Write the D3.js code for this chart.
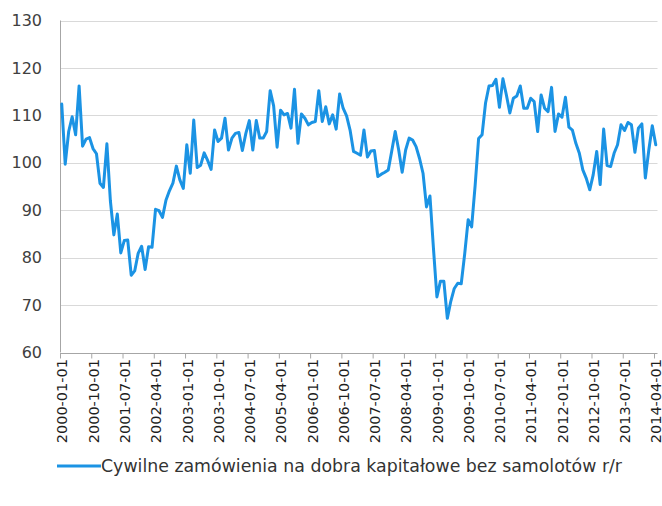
<!DOCTYPE html>
<html>
<head>
<meta charset="utf-8">
<script src="https://cdn.jsdelivr.net/npm/d3@7"></script>
<style>
  html, body { margin: 0; padding: 0; background: #ffffff; }
  svg { display: block; }
  text { font-family: "DejaVu Sans", Verdana, sans-serif; fill: #333333; }
</style>
</head>
<body>
<svg id="chart" width="662" height="506"></svg>
<script>
// Monthly series, 2000-01 .. 2014-04
const startMonth = "2000-01-01";
const endMonth = "2014-04-01";

const seriesName = "Cywilne zamówienia na dobra kapitałowe bez samolotów r/r";

const seriesValues = [
  112.4, 99.7, 106.6, 109.7, 105.9, 116.2, 103.5, 105.0, 105.3, 103.0,
  101.9, 95.7, 94.8, 104.0, 92.0, 84.8, 89.2, 81.0, 83.6, 83.7,
  76.3, 77.2, 80.9, 82.4, 77.5, 82.3, 82.2, 90.2, 89.9, 88.5,
  92.1, 94.1, 95.7, 99.3, 96.4, 94.6, 103.8, 97.8, 109.0, 99.0,
  99.5, 102.1, 100.5, 98.6, 106.9, 104.5, 105.2, 109.4, 102.7, 105.2,
  106.2, 106.4, 102.6, 106.2, 108.9, 102.7, 108.9, 105.2, 105.2, 106.6,
  115.2, 112.0, 103.3, 111.1, 110.1, 110.4, 107.3, 115.5, 104.1, 110.3,
  109.4, 108.0, 108.5, 108.7, 115.2, 108.7, 111.8, 108.2, 110.1, 107.1,
  114.5, 111.5, 109.9, 106.9, 102.4, 102.0, 101.6, 106.9, 101.2, 102.5,
  102.6, 97.1, 97.6, 98.0, 98.5, 102.5, 106.6, 102.7, 98.0, 102.7,
  105.2, 104.8, 103.4, 100.9, 97.8, 90.7, 93.0, 82.0, 71.7, 75.0,
  75.0, 67.2, 70.8, 73.5, 74.6, 74.5, 80.8, 88.0, 86.5, 95.2,
  105.1, 105.9, 112.6, 116.2, 116.3, 117.6, 111.7, 117.7, 114.3, 110.5,
  113.6, 114.1, 116.2, 111.5, 111.5, 113.6, 112.9, 106.6, 114.3, 111.5,
  110.8, 115.9, 106.6, 110.3, 109.6, 113.8, 107.5, 106.9, 104.1, 102.0,
  98.5, 96.7, 94.3, 97.5, 102.4, 95.4, 107.1, 99.4, 99.2, 102.0,
  103.8, 108.0, 106.8, 108.5, 108.0, 102.2, 107.3, 108.2, 96.8, 102.7,
  107.8, 103.8
];

const yTicks = [60, 70, 80, 90, 100, 110, 120, 130];

const xTickLabels = [
  "2000-01-01", "2000-10-01", "2001-07-01", "2002-04-01", "2003-01-01",
  "2003-10-01", "2004-07-01", "2005-04-01", "2006-01-01", "2006-10-01",
  "2007-07-01", "2008-04-01", "2009-01-01", "2009-10-01", "2010-07-01",
  "2011-04-01", "2012-01-01", "2012-10-01", "2013-07-01", "2014-04-01"
];

// Category list (one per month)
const parse = d3.timeParse("%Y-%m-%d");
const fmt = d3.timeFormat("%Y-%m-%d");
const months = d3.timeMonth.range(parse(startMonth), d3.timeMonth.offset(parse(endMonth), 1)).map(fmt);
const data = months.map((m, i) => ({ month: m, value: seriesValues[i] }));

const svg = d3.select("#chart");
const plotLeft = 60, plotRight = 657.5, plotTop = 20.5, plotBottom = 352.5;

const x = d3.scaleLinear().domain([0, months.length]).range([plotLeft, plotRight]);
const y = d3.scaleLinear().domain([60, 130]).range([plotBottom, plotTop]);

// Horizontal gridlines
svg.append("g")
  .selectAll("line")
  .data(yTicks.filter(v => v !== 60))
  .join("line")
  .attr("x1", plotLeft).attr("x2", plotRight)
  .attr("y1", d => Math.round(y(d)) + 0.5).attr("y2", d => Math.round(y(d)) + 0.5)
  .attr("stroke", "#d9d9d9").attr("stroke-width", 1);

// Y axis labels
const yAxis = svg.append("g")
  .attr("transform", `translate(${plotLeft},0)`)
  .call(d3.axisLeft(y).tickValues(yTicks).tickSize(0).tickPadding(18).tickFormat(d3.format("d")));
yAxis.select(".domain").remove();
yAxis.selectAll("text").style("font-size", "16px").style("fill", "#404040");

// Vertical axis line
svg.append("line")
  .attr("x1", plotLeft + 0.5).attr("x2", plotLeft + 0.5)
  .attr("y1", plotTop).attr("y2", plotBottom)
  .attr("stroke", "#a6a6a6").attr("stroke-width", 1);

// Category axis: ticks at boundaries every 9 months
const labelIdx = xTickLabels.map(l => months.indexOf(l));
const xAxisTicks = svg.append("g")
  .attr("transform", `translate(0,${Math.round(plotBottom) + 0.5})`)
  .call(d3.axisBottom(x).tickValues(labelIdx).tickSize(5).tickFormat(""));
xAxisTicks.select(".domain").attr("stroke", "#a6a6a6").attr("d", `M${plotLeft},0H${plotRight}`);
xAxisTicks.selectAll(".tick line").attr("stroke", "#a6a6a6");

// Category labels, centred on their month
const xAxisLabels = svg.append("g")
  .attr("transform", `translate(0,${Math.round(plotBottom)})`)
  .call(d3.axisBottom(x).tickValues(labelIdx.map(i => i + 0.5)).tickSize(0)
    .tickFormat((d) => months[Math.floor(d)]));
xAxisLabels.select(".domain").remove();
xAxisLabels.selectAll("text")
  .style("font-size", "14.5px")
  .style("fill", "#1e1e1e")
  .attr("text-anchor", "end")
  .attr("transform", "rotate(-90)")
  .attr("x", -6)
  .attr("y", 0)
  .attr("dy", "0.36em");

// Series line
const line = d3.line()
  .x((d, i) => x(i + 0.5))
  .y(d => y(d.value));

svg.append("path")
  .datum(data)
  .attr("fill", "none")
  .attr("stroke", "#1b93e4")
  .attr("stroke-width", 3)
  .attr("stroke-linejoin", "round")
  .attr("stroke-linecap", "round")
  .attr("d", line);

// Legend
const legend = svg.append("g").attr("transform", "translate(57,466)");
legend.append("line")
  .attr("x1", 0).attr("x2", 44).attr("y1", 0).attr("y2", 0)
  .attr("stroke", "#1b93e4").attr("stroke-width", 3);
legend.append("text")
  .attr("x", 44).attr("y", 0).attr("dy", "0.36em")
  .attr("textLength", 521).attr("lengthAdjust", "spacingAndGlyphs")
  .style("font-size", "17px")
  .style("fill", "#333333")
  .text(seriesName);
</script>
</body>
</html>
